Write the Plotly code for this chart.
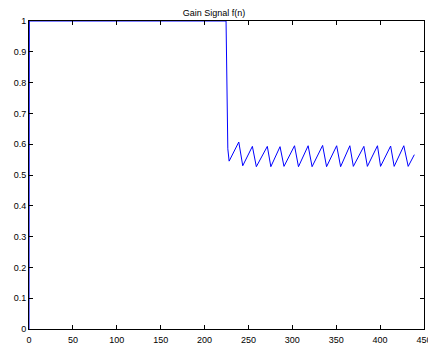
import plotly.graph_objects as go

n = [0, 0.4, 224.5, 225.5, 226.5, 228, 239, 243.5, 254.5, 259, 271.5, 275.5, 286, 290.5,
     302.5, 307, 318, 322.5, 334.5, 339, 350.5, 355, 365.5, 369.5, 381.5, 385.5,
     397, 400.5, 412, 416, 427, 432, 439]
f = [0, 1, 1, 0.72, 0.585, 0.545, 0.607, 0.53, 0.593, 0.527, 0.593, 0.527, 0.592, 0.528,
     0.595, 0.527, 0.595, 0.527, 0.596, 0.527, 0.595, 0.527, 0.595, 0.528, 0.593, 0.528,
     0.595, 0.528, 0.594, 0.528, 0.595, 0.528, 0.566]

x_ticks = [0, 50, 100, 150, 200, 250, 300, 350, 400, 450]
y_ticks = [0, 0.1, 0.2, 0.3, 0.4, 0.5, 0.6, 0.7, 0.8, 0.9, 1]
y_labels = ["0", "0.1", "0.2", "0.3", "0.4", "0.5", "0.6", "0.7", "0.8", "0.9", "1"]

fig = go.Figure()
fig.add_trace(go.Scatter(x=n, y=f, mode="lines",
                         line=dict(color="#0000ff", width=1), showlegend=False))

font = dict(family="Liberation Sans, Arial, sans-serif", size=9, color="black")
axis_common = dict(showline=True, linecolor="black", linewidth=1, mirror="ticks",
                   ticks="inside", ticklen=4, tickcolor="black", tickwidth=1,
                   showgrid=False, zeroline=False, tickfont=font,
                   ticklabeloverflow="allow", automargin=False)

fig.update_layout(
    width=428, height=345,
    margin=dict(l=29, r=4, t=21, b=16, autoexpand=False),
    paper_bgcolor="white", plot_bgcolor="white",
    title=dict(text="Gain Signal f(n)", x=0.5, xanchor="center", y=1 - 12.5 / 345,
               yanchor="middle", font=font),
    xaxis=dict(range=[0, 450], tickvals=x_ticks, ticktext=[str(v) for v in x_ticks],
               ticklabelstandoff=2, **axis_common),
    yaxis=dict(range=[0, 1], tickvals=y_ticks, ticktext=y_labels, **axis_common),
)

fig.write_html("out.html")
